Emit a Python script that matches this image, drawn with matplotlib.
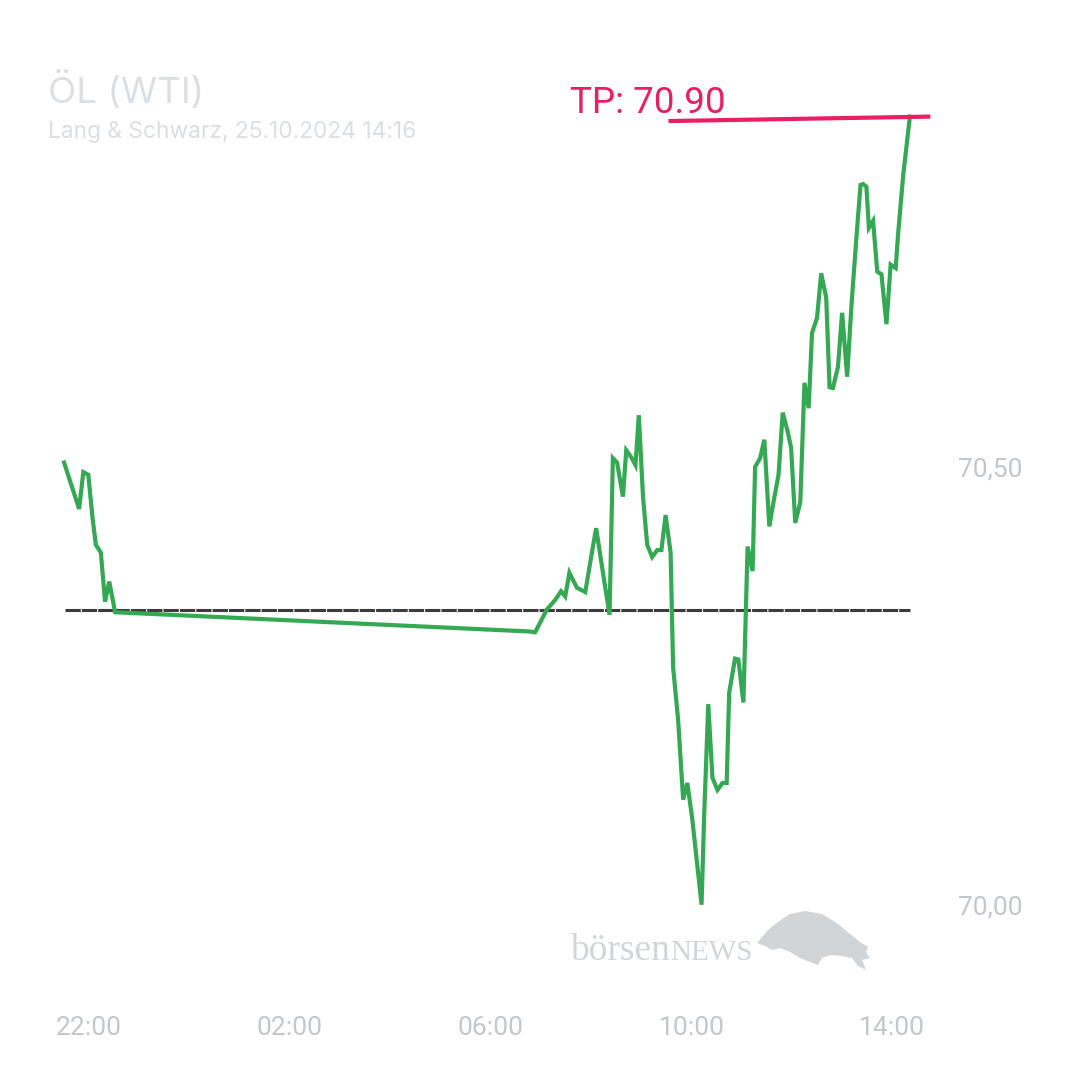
import matplotlib
matplotlib.use('Agg')
import matplotlib.pyplot as plt
from matplotlib.patches import Polygon

# intraday quotes, Lang & Schwarz (times are local, starting the evening before)
times = ['21:30', '21:48', '21:53', '21:59', '22:04', '22:08', '22:14', '22:19', '22:24', '22:31',
         '06:47', '06:53', '07:07', '07:17', '07:24', '07:29', '07:34', '07:43', '07:53', '08:00',
         '08:06', '08:13', '08:22', '08:26', '08:31', '08:38', '08:42', '08:48', '08:53', '08:57',
         '09:02', '09:07', '09:13', '09:19', '09:24', '09:29', '09:35', '09:38', '09:44', '09:50',
         '09:55', '10:01', '10:12', '10:15', '10:20', '10:25', '10:31', '10:37', '10:42', '10:45',
         '10:52', '10:56', '11:02', '11:07', '11:13', '11:16', '11:22', '11:27', '11:33', '11:38',
         '11:44', '11:49', '11:55', '11:59', '12:04', '12:10', '12:15', '12:20', '12:24', '12:30',
         '12:35', '12:41', '12:45', '12:49', '12:55', '13:00', '13:06', '13:11', '13:17', '13:22',
         '13:25', '13:29', '13:32', '13:37', '13:42', '13:47', '13:53', '13:58', '14:04', '14:07',
         '14:13', '14:21']
prices = [70.505, 70.452, 70.494, 70.491, 70.442, 70.411, 70.402, 70.346, 70.369, 70.334,
          70.312, 70.311, 70.337, 70.348, 70.358, 70.352, 70.379, 70.362, 70.357, 70.397,
          70.430, 70.386, 70.331, 70.510, 70.505, 70.466, 70.519, 70.511, 70.502, 70.559,
          70.466, 70.411, 70.397, 70.405, 70.405, 70.445, 70.402, 70.271, 70.211, 70.120,
          70.139, 70.097, 70.000, 70.099, 70.229, 70.145, 70.131, 70.139, 70.139, 70.242,
          70.281, 70.280, 70.231, 70.409, 70.381, 70.500, 70.510, 70.531, 70.432, 70.460,
          70.491, 70.562, 70.540, 70.522, 70.436, 70.460, 70.596, 70.567, 70.653, 70.670,
          70.721, 70.693, 70.591, 70.590, 70.614, 70.676, 70.603, 70.682, 70.761, 70.822,
          70.823, 70.820, 70.773, 70.781, 70.723, 70.720, 70.663, 70.731, 70.727, 70.767,
          70.833, 70.900]

prev_close = 70.337
prev_close_times = ['21:31', '14:21']

tp_label = 'TP: 70.90'
tp_times = ['09:35', '14:43']
tp_values = [70.895, 70.90]

x_ticks = ['22:00', '02:00', '06:00', '10:00', '14:00']
y_ticks = [70.00, 70.50]
y_tick_labels = ['70,00', '70,50']

title = 'ÖL (WTI)'
subtitle = 'Lang & Schwarz, 25.10.2024 14:16'

GREEN = '#35a853'
PINK = '#e91e63'
GREY = '#c3c6ca'


def to_hours(t):
    # hours since 22:00 the evening before
    hh, mm = t.split(':')
    h = int(hh) + int(mm) / 60 - 22
    if h < -2:
        h += 24
    return h


xs = [to_hours(t) for t in times]

fig = plt.figure(figsize=(10.8, 10.8), dpi=100)
ax = fig.add_axes([50 / 1080, 100 / 1080, 890 / 1080, 880 / 1080])

# previous close reference line
ax.plot([to_hours(t) for t in prev_close_times], [prev_close, prev_close],
        color='#3c3c3c', lw=2.2, ls=(0, (5, 0.35)), zorder=2)

ax.plot(xs, prices, color=GREEN, lw=3.0, solid_joinstyle='miter', zorder=3)

# take profit line
ax.plot([to_hours(t) for t in tp_times], tp_values, color=PINK, lw=3.0, zorder=4)
fig.text(570 / 1080, 1 - 113 / 1080, tp_label, color=PINK, fontsize=26.5,
         family='Roboto', va='baseline', ha='left')

ax.set_xlim(-0.78, 16.95)
ax.set_ylim(69.914, 70.919)

ax.set_xticks([to_hours(t) for t in x_ticks])
ax.set_xticklabels(x_ticks)
ax.set_yticks(y_ticks)
ax.set_yticklabels(y_tick_labels)
ax.yaxis.tick_right()
ax.tick_params(axis='both', length=0, labelcolor=GREY, labelsize=19)
ax.tick_params(axis='x', pad=26)
ax.tick_params(axis='y', pad=13)
for lab in ax.get_xticklabels() + ax.get_yticklabels():
    lab.set_family('Roboto')
for s in ax.spines.values():
    s.set_visible(False)

fig.text(48 / 1080, 1 - 103 / 1080, title, color='#dcdfe2', fontsize=26.5,
         family='Inter', va='baseline', ha='left')
fig.text(48 / 1080, 1 - 138 / 1080, subtitle, color='#dcdfe2', fontsize=16.4,
         family='Inter', va='baseline', ha='left')

# watermark
WM = '#d2d5d8'
t1 = fig.text(570 / 1080, 1 - 960 / 1080, 'börsen', color=WM, fontsize=27,
              family='Liberation Serif', va='baseline', ha='left')
fig.canvas.draw()
bb = t1.get_window_extent()
fig.text(bb.x1 / 1080, 1 - 960 / 1080, 'NEWS', color=WM, fontsize=21,
         family='Liberation Serif', va='baseline', ha='left')
bull = [(757, 943), (768, 930), (778, 922), (790, 914), (805, 911), (822, 914),
        (838, 924), (850, 934), (860, 942), (868, 947), (866, 952), (870, 958),
        (862, 960), (866, 970), (858, 966), (852, 958), (842, 956), (830, 955),
        (822, 958), (818, 965), (810, 962), (800, 958), (790, 952), (780, 948),
        (772, 950), (765, 946)]
fig.patches.append(Polygon([(x / 1080, 1 - y / 1080) for x, y in bull], closed=True,
                           transform=fig.transFigure, facecolor=WM, edgecolor='none'))

fig.savefig('out.png', dpi=100, facecolor='white')
